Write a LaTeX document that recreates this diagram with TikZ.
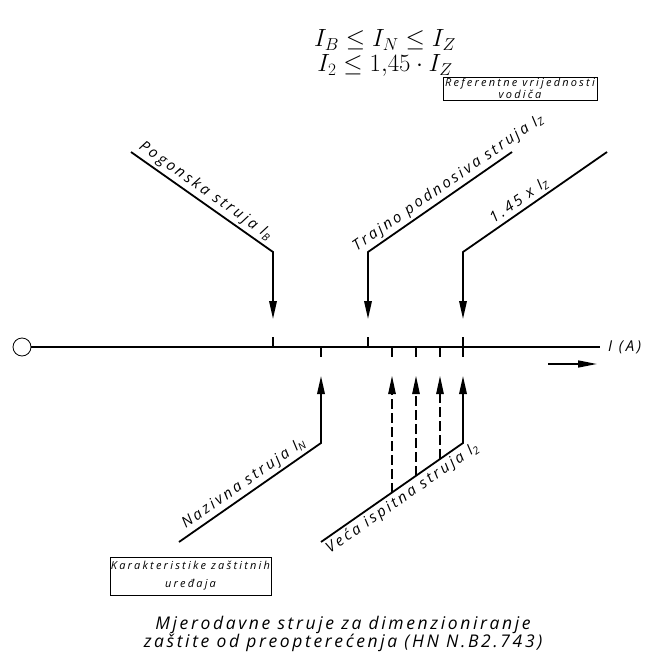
\documentclass[tikz,border=0pt]{standalone}
\usepackage{amsmath}
\usepackage{fontspec}
\usepackage{tikz}
\usetikzlibrary{arrows.meta,positioning,calc}
\usepackage{xcolor}
\definecolor{inkblack}{RGB}{0,0,0}
\newfontfamily\cadfont{Open Sans}
\newcommand{\cadsize}[3]{\cadfont\itshape\addfontfeatures{LetterSpace=#3}\fontsize{#1}{#2}\selectfont}
\tikzset{
  axisline/.style={line width=2.6pt,draw=inkblack},
  tickline/.style={line width=1.3pt,draw=inkblack},
  zeromark/.style={circle,draw=inkblack,line width=0.8pt,minimum size=18pt,inner sep=0pt},
  pointer/.style={-{Triangle[length=18pt,width=7.5pt]},line width=1.8pt,draw=inkblack,line join=miter},
  dashpointer/.style={pointer,line width=1.1pt,dash pattern=on 10pt off 4pt},
  dirarrow/.style={-{Triangle[length=19pt,width=7pt]},line width=1.6pt,draw=inkblack},
  slantlabel/.style={font=\cadsize{15}{17}{18},inner sep=2.5pt},
  notebox/.style={draw=inkblack,line width=0.8pt,align=center,inner sep=1pt,
    font=\cadsize{11}{10}{20}},
  axislabel/.style={font=\cadsize{15}{17}{18},inner sep=0pt},
  caption/.style={align=center,font=\cadsize{17.5}{18}{15}},
  formula/.style={align=center,font=\fontsize{26}{25}\selectfont}
}

\begin{document}
\begin{tikzpicture}[x=1pt,y=-1pt]
  \useasboundingbox (0,0) rectangle (655,671);
  \node[formula] (rules) at (385,53) {$I_B \le I_N \le I_Z$\\$I_2 \le 1{,}45\cdot I_Z$};
  \node[notebox,minimum width=154pt,minimum height=23pt] (refbox) at (520,88.5)
    {Referentne vrijednosti\\vodiča};
  \node[notebox,minimum width=157pt,minimum height=38pt,font=\cadsize{11}{18}{20}]
    (protbox) at (190.5,576) {Karakteristike zaštitnih\\uređaja};

  \node[zeromark] (zero) at (22,347) {};
  \coordinate (axend) at (600,347);
  \draw[axisline] (zero.east) -- (axend);
  \node[axislabel,right=8pt of axend] (unit) {I (A)};
  \coordinate (dirA) at (548,364);
  \coordinate (dirB) at (597,364);
  \draw[dirarrow] (dirA) -- (dirB);

  \coordinate (pgEnd) at (131,152);
  \coordinate (pgBend) at (273,252);
  \coordinate (pgTip) at (273,319);
  \coordinate (tzEnd) at (512,152);
  \coordinate (tzBend) at (368,252);
  \coordinate (tzTip) at (368,319);
  \coordinate (izEnd) at (607,152);
  \coordinate (izBend) at (463,252);
  \coordinate (izTip) at (463,319);
  \coordinate (inEnd) at (179,542);
  \coordinate (inBend) at (321,443);
  \coordinate (inTip) at (321,376);
  \coordinate (tsEnd) at (321,542);
  \coordinate (tsBend) at (463,443);
  \coordinate (tsTip) at (463,376);

  \foreach \p in {pgTip,tzTip,izTip}
    \draw[tickline] (\p |- axend) -- ++(0,-10);
  \foreach \p in {inTip,tsTip}
    \draw[tickline] (\p |- axend) -- ++(0,10);

  \draw[pointer] (pgEnd) -- node[slantlabel,sloped,above,pos=.48] (pgLabel)
    {Pogonska struja I\textsubscript{B}} (pgBend) -- (pgTip);
  \draw[pointer] (tzEnd) -- node[slantlabel,sloped,above,pos=.4] (tzLabel)
    {Trajno podnosiva struja I\textsubscript{Z}} (tzBend) -- (tzTip);
  \draw[pointer] (izEnd) -- node[slantlabel,sloped,above,pos=.57] (izLabel)
    {1.45 x I\textsubscript{Z}} (izBend) -- (izTip);
  \draw[pointer] (inEnd) -- node[slantlabel,sloped,above,pos=.5] (inLabel)
    {Nazivna struja I\textsubscript{N}} (inBend) -- (inTip);
  \draw[pointer] (tsEnd) -- node[slantlabel,sloped,below,pos=.53] (tsLabel)
    {Veća ispitna struja I\textsubscript{2}} (tsBend) -- (tsTip);

  \foreach \t [count=\i] in {0.5,0.669,0.838} {
    \coordinate (dash\i) at ($(tsEnd)!\t!(tsBend)$);
    \draw[dashpointer] (dash\i) -- (dash\i |- tsTip);
    \draw[tickline] (dash\i |- axend) -- ++(0,10);
  }

  \node[caption] (title) at (343,634)
    {Mjerodavne struje za dimenzioniranje\\zaštite od preopterećenja (HN N.B2.743)};
\end{tikzpicture}
\end{document}
